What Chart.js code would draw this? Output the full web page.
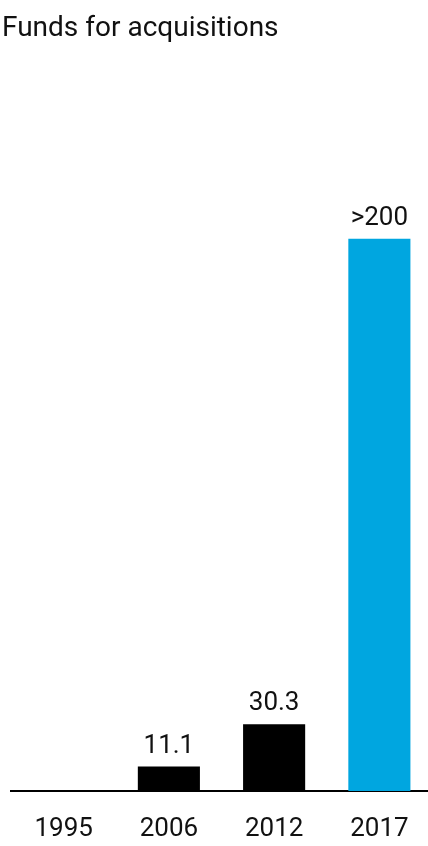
<!DOCTYPE html>
<html>
<head>
<meta charset="utf-8">
<script src="https://cdn.jsdelivr.net/npm/chart.js@4/dist/chart.umd.min.js"></script>
<style>
  html, body { margin: 0; padding: 0; background: #fff; overflow: hidden; }
  #wrap { position: relative; width: 428px; height: 846px; overflow: hidden; }
  #title { position: absolute; left: 2px; top: 10px; font: 28px Roboto, sans-serif; color: #111; white-space: nowrap; }
  canvas { display: block; }
</style>
</head>
<body>
<div id="wrap">
  <div id="title">Funds for acquisitions</div>
  <canvas id="fundsChart" width="432" height="846"></canvas>
</div>
<script>
const years = ['1995', '2006', '2012', '2017'];
const funds = [0, 11.1, 30.3, 251];
const fundLabels = ['', '11.1', '30.3', '>200'];
const barColors = ['#000000', '#000000', '#000000', '#00a6e0'];

const valueLabels = {
  id: 'valueLabels',
  afterDatasetsDraw(chart) {
    const ctx = chart.ctx;
    const meta = chart.getDatasetMeta(0);
    ctx.save();
    ctx.font = '26px Roboto, sans-serif';
    ctx.fillStyle = '#111';
    ctx.textAlign = 'center';
    ctx.textBaseline = 'alphabetic';
    meta.data.forEach((bar, i) => {
      if (fundLabels[i]) ctx.fillText(fundLabels[i], bar.x, bar.y - 14);
    });
    ctx.restore();
  }
};

new Chart(document.getElementById('fundsChart'), {
  type: 'bar',
  data: {
    labels: years,
    datasets: [{
      data: funds,
      backgroundColor: barColors,
      borderWidth: 0,
      categoryPercentage: 1,
      barPercentage: 0.59
    }]
  },
  options: {
    responsive: false,
    animation: false,
    layout: { padding: { left: 11, right: 0, top: 65, bottom: 0 } },
    plugins: { legend: { display: false }, tooltip: { enabled: false } },
    scales: {
      x: {
        grid: { display: false, drawTicks: false },
        border: { display: true, color: '#000', width: 2 },
        ticks: { color: '#111', font: { family: 'Roboto', size: 26 }, padding: 23 },
        afterFit(scale) { scale.height = 55; }
      },
      y: {
        display: false,
        min: 0,
        max: 330
      }
    }
  },
  plugins: [valueLabels]
});
</script>
</body>
</html>
